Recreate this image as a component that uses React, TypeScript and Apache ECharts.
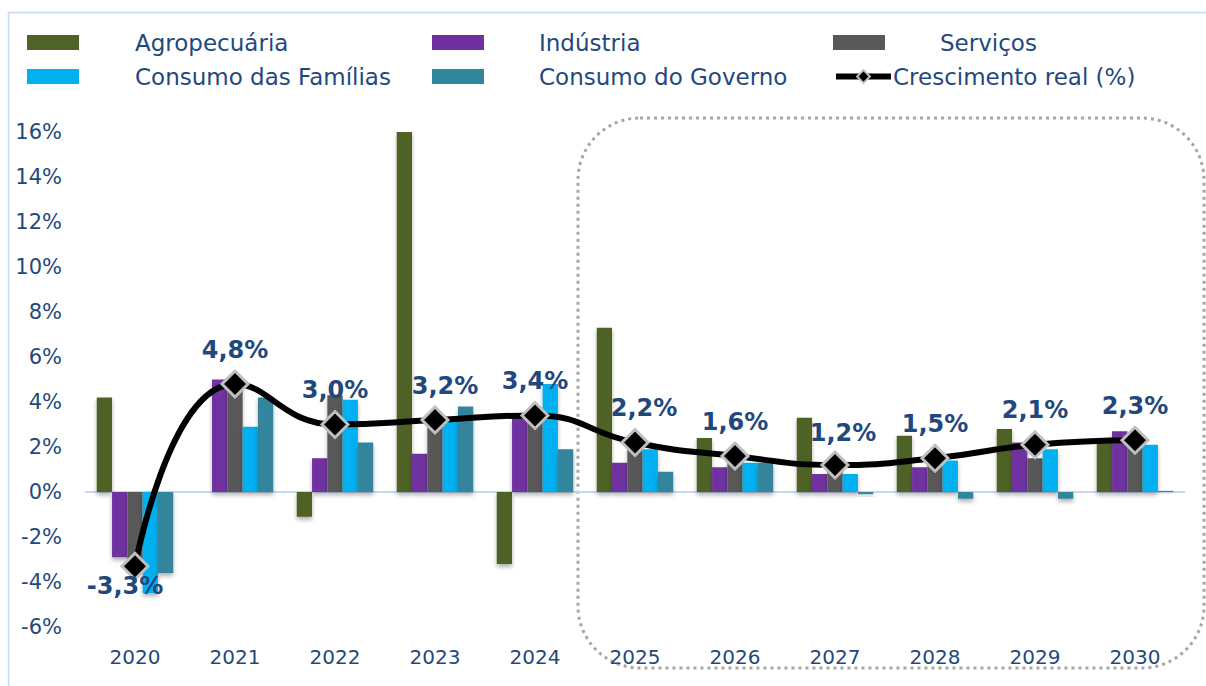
import React, { useEffect, useRef } from "react";
import * as echarts from "echarts";

const categories = ["2020", "2021", "2022", "2023", "2024", "2025", "2026", "2027", "2028", "2029", "2030"];
const agropecuaria = [4.2, 0, -1.1, 16.0, -3.2, 7.3, 2.4, 3.3, 2.5, 2.8, 2.2];
const industria = [-2.9, 5.0, 1.5, 1.7, 3.3, 1.3, 1.1, 0.8, 1.1, 2.2, 2.7];
const servicos = [-3.1, 4.9, 4.3, 3.0, 3.4, 2.0, 1.4, 1.0, 1.3, 1.5, 2.4];
const consumoFamilias = [-4.5, 2.9, 4.1, 3.2, 4.8, 1.9, 1.3, 0.8, 1.4, 1.9, 2.1];
const consumoGoverno = [-3.6, 4.2, 2.2, 3.8, 1.9, 0.9, 1.3, -0.1, -0.3, -0.3, 0.05];
const crescimento = [-3.3, 4.8, 3.0, 3.2, 3.4, 2.2, 1.6, 1.2, 1.5, 2.1, 2.3];
const labelOffsets = [[-10, -13], [0, -2], [0, -2], [10, -2], [0, -2], [9, -2], [0, -2], [8, 0], [0, -2], [0, -2], [0, -2]];

const FONT = "DejaVu Sans";
const TEXT_COLOR = "#1f497d";

export default function App() {
  const ref = useRef<HTMLDivElement>(null);
  useEffect(() => {
    if (!ref.current) return;
    const chart = echarts.init(ref.current, undefined, { renderer: "svg" });
    const barShadow = { shadowBlur: 4, shadowOffsetY: 3, shadowColor: "rgba(0,0,0,0.3)" };
    const mkBar = (name: string, data: number[], color: string, extra: any = {}) => ({
      name,
      type: "bar",
      data,
      barGap: "0%",
      barCategoryGap: "23.5%",
      itemStyle: { color, ...barShadow },
      z: 2,
      ...extra,
    });
    const legendBase = {
      orient: "horizontal",
      padding: 0,
      itemWidth: 52,
      itemHeight: 15,
      icon: "rect",
      textStyle: { fontFamily: FONT, fontSize: 23, color: TEXT_COLOR, padding: [0, 0, 0, 51] },
    };
    const option: any = {
      animation: false,
      backgroundColor: "#ffffff",
      textStyle: { fontFamily: FONT },
      legend: [
        { ...legendBase, left: 27, top: 31, data: ["Agropecuária"] },
        { ...legendBase, left: 432, top: 31, data: ["Indústria"], textStyle: { ...legendBase.textStyle, padding: [0, 0, 0, 50] } },
        { ...legendBase, left: 833, top: 31, data: ["Serviços"], textStyle: { ...legendBase.textStyle, padding: [0, 0, 0, 50] } },
        { ...legendBase, left: 27, top: 65, data: ["Consumo das Famílias"] },
        { ...legendBase, left: 432, top: 65, data: ["Consumo do Governo"], textStyle: { ...legendBase.textStyle, padding: [0, 0, 0, 50] } },
        {
          ...legendBase,
          icon: undefined,
          left: 833,
          top: 65,
          itemWidth: 55,
          itemHeight: 16,
          lineStyle: { width: 6, color: "#000000" },
          itemStyle: { color: "#000000", borderColor: "#bfbfbf", borderWidth: 2 },
          data: ["Crescimento real (%)"],
          textStyle: { ...legendBase.textStyle, padding: [0, 0, 0, -3] },
        },
      ],
      grid: { left: 85, right: 21, top: 132, bottom: 59, containLabel: false },
      xAxis: {
        type: "category",
        data: categories,
        axisLine: { show: false, onZero: false },
        axisTick: { show: false },
        axisLabel: { fontFamily: FONT, fontSize: 20, color: TEXT_COLOR, margin: 20 },
      },
      yAxis: {
        type: "value",
        min: -6,
        max: 16,
        interval: 2,
        splitLine: { show: false },
        axisLine: { show: false },
        axisTick: { show: false },
        axisLabel: { fontFamily: FONT, fontSize: 21, color: TEXT_COLOR, margin: 23, formatter: (v: number) => v + "%" },
      },
      graphic: [
        {
          type: "rect",
          silent: true,
          z: -1,
          shape: { x: 8.5, y: 12.5, width: 1300, height: 800 },
          style: { fill: "none", stroke: "#c6d9f1", lineWidth: 1.5 },
        },
        {
          type: "rect",
          silent: true,
          z: 0,
          shape: { x: 578, y: 118, width: 626, height: 550, r: 62 },
          style: { fill: "none", stroke: "#a6a6a6", lineWidth: 3, lineDash: [3, 4] },
        },
      ],
      series: [
        mkBar("Agropecuária", agropecuaria, "#4f6228", {
          markLine: {
            silent: true,
            symbol: "none",
            label: { show: false },
            lineStyle: { color: "#c6d9f1", width: 2, type: "solid" },
            data: [{ yAxis: 0 }],
            z: 1,
          },
        }),
        mkBar("Indústria", industria, "#7030a0"),
        mkBar("Serviços", servicos, "#595959"),
        mkBar("Consumo das Famílias", consumoFamilias, "#00b0f0"),
        mkBar("Consumo do Governo", consumoGoverno, "#31859c"),
        {
          name: "Crescimento real (%)",
          type: "line",
          smooth: 0.5,
          z: 5,
          data: crescimento.map((v, i) => ({
            value: v,
            label: {
              position: v < 0 ? "bottom" : "top",
              offset: labelOffsets[i],
            },
          })),
          symbol: "diamond",
          symbolSize: 26,
          lineStyle: { color: "#000000", width: 6 },
          itemStyle: { color: "#000000", borderColor: "#bfbfbf", borderWidth: 3 },
          label: {
            show: true,
            distance: 6,
            fontFamily: FONT,
            fontSize: 24,
            fontWeight: "bold",
            color: TEXT_COLOR,
            formatter: (p: any) => p.value.toFixed(1).replace(".", ",") + "%",
          },
        },
      ],
    };
    chart.setOption(option);
    return () => chart.dispose();
  }, []);
  return <div ref={ref} style={{ position: "fixed", left: 0, top: 0, width: 1206, height: 686 }} />;
}
